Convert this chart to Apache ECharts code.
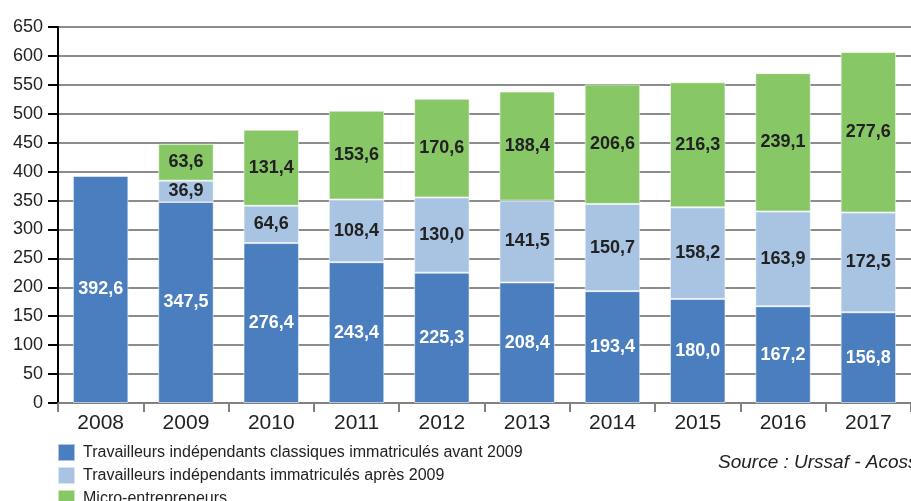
<!DOCTYPE html>
<html>
<head>
<meta charset="utf-8">
<script src="https://cdn.jsdelivr.net/npm/echarts@6/dist/echarts.min.js"></script>
<style>
  html, body { margin: 0; padding: 0; background: #fff; }
  #chart { width: 911px; height: 501px; }
</style>
</head>
<body>
<div id="chart"></div>
<script>
// Années
const years = ['2008', '2009', '2010', '2011', '2012', '2013', '2014', '2015', '2016', '2017'];

// Effectifs (en milliers)
const classiques = [392.6, 347.5, 276.4, 243.4, 225.3, 208.4, 193.4, 180.0, 167.2, 156.8];
const apres2009 = [null, 36.9, 64.6, 108.4, 130.0, 141.5, 150.7, 158.2, 163.9, 172.5];
const micro = [null, 63.6, 131.4, 153.6, 170.6, 188.4, 206.6, 216.3, 239.1, 277.6];

const seriesNames = [
    'Travailleurs indépendants classiques immatriculés avant 2009',
    'Travailleurs indépendants immatriculés après 2009',
    'Micro-entrepreneurs'
];

const font = 'Liberation Sans, Arial, sans-serif';
const fmt = p => p.value == null ? '' : p.value.toFixed(1).replace('.', ',');

const chart = echarts.init(document.getElementById('chart'));

function bar(name, data, color, labelColor) {
    return {
        name: name,
        type: 'bar',
        stack: 'total',
        data: data,
        barWidth: '65%',
        itemStyle: {
            color: color,
            borderColor: 'rgba(255,255,255,0.55)',
            borderWidth: 1
        },
        label: {
            show: true,
            position: 'inside',
            formatter: fmt,
            color: labelColor,
            fontFamily: font,
            fontWeight: 'bold',
            fontSize: 18
        }
    };
}

const option = {
    animation: false,
    textStyle: { fontFamily: font },
    grid: {
        left: 58,
        top: 27,
        width: 856,
        bottom: 98
    },
    legend: {
        orient: 'vertical',
        left: 57,
        top: 443,
        height: 100,
        padding: 0,
        icon: 'rect',
        itemWidth: 17,
        itemHeight: 17,
        itemGap: 4,
        textStyle: { fontSize: 16, color: '#222', fontFamily: font, padding: [0, 0, 0, 3] },
        data: seriesNames
    },
    graphic: [{
        type: 'text',
        left: 718,
        top: 453,
        style: {
            text: 'Source : Urssaf - Acoss',
            font: 'italic 19px Liberation Sans, Arial, sans-serif',
            fill: '#222'
        }
    }],
    xAxis: {
        type: 'category',
        data: years,
        axisLine: { lineStyle: { color: '#808080', width: 2 } },
        axisTick: { show: true, length: 9, lineStyle: { color: '#808080', width: 2 } },
        axisLabel: { color: '#222', fontSize: 21, margin: 10, fontFamily: font }
    },
    yAxis: {
        type: 'value',
        min: 0,
        max: 650,
        interval: 50,
        axisLine: { show: true, lineStyle: { color: '#000', width: 2 } },
        axisTick: { show: true, length: 10, lineStyle: { color: '#000', width: 2 } },
        axisLabel: { color: '#222', fontSize: 18, margin: 15, fontFamily: font },
        splitLine: { lineStyle: { color: '#8c8c8c', width: 2 } }
    },
    series: [
        bar(seriesNames[0], classiques, '#4a7ebf', '#fff'),
        bar(seriesNames[1], apres2009, '#a9c4e3', '#222'),
        bar(seriesNames[2], micro, '#88c766', '#222')
    ]
};

chart.setOption(option);
</script>
</body>
</html>
